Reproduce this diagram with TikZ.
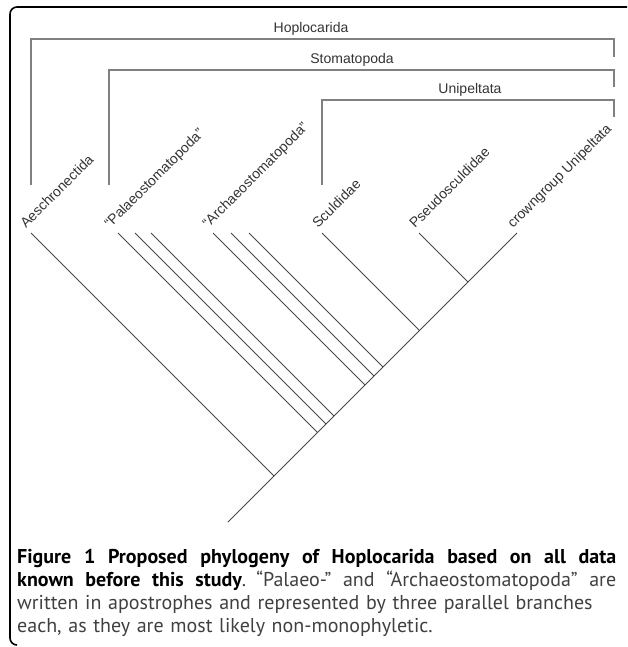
\documentclass[tikz,border=0pt]{standalone}
\usepackage{fontspec}
\setmainfont{Liberation Sans}
\newfontfamily\capfont{PT Sans}

\begin{document}
\begin{tikzpicture}[x=1pt,y=-1pt,
    clade/.style={draw=black!50,line width=1.2pt},
    branch/.style={draw=black!72,line width=0.9pt},
    taxon/.style={rotate=45,anchor=base west,inner sep=0pt,
      font=\fontsize{14}{16}\selectfont,text=black!80},
    group/.style={anchor=base,inner sep=0pt,
      font=\fontsize{14}{16}\selectfont,text=black!80},
    caption/.style={anchor=base west,inner sep=0pt,text width=599pt,align=left,
      font=\capfont\fontsize{20}{23}\selectfont,text=black!75}]

  \useasboundingbox (0,0) rectangle (627,647);

  % box round the figure
  \draw[line width=1.6pt,rounded corners=7pt] (627,7) -| (10,645) -- (17,645);

  % Clade brackets
  \coordinate (hopBL) at (31,185);  \coordinate (hopTL) at (31,39);
  \coordinate (hopTR) at (614,39);  \coordinate (hopBR) at (614,57);
  \coordinate (stoBL) at (109,185); \coordinate (stoTL) at (109,70);
  \coordinate (stoTR) at (614,70);  \coordinate (stoBR) at (614,87);
  \coordinate (uniBL) at (322,185); \coordinate (uniTL) at (322,100);
  \coordinate (uniTR) at (614,100); \coordinate (uniBR) at (614,117);

  \draw[clade] (hopBL) -- (hopTL) -- (hopTR) -- (hopBR);
  \draw[clade] (stoBL) -- (stoTL) -- (stoTR) -- (stoBR);
  \draw[clade] (uniBL) -- (uniTL) -- (uniTR) -- (uniBR);

  \node[group] (hop) at (311,33) {Hoplocarida};
  \node[group] (sto) at (352,64) {Stomatopoda};
  \node[group] (uni) at (470,94) {Unipeltata};

  % Tree: tips and the points where they meet the stem
  \coordinate (root)  at (228,522);
  \coordinate (crwT)  at (517,233);
  \coordinate (aesT)  at (31,233);  \coordinate (aesJ)  at (274,476);
  \coordinate (pal1T) at (118,233); \coordinate (pal1J) at (317.5,432.5);
  \coordinate (pal2T) at (135,233); \coordinate (pal2J) at (326,424);
  \coordinate (pal3T) at (151,233); \coordinate (pal3J) at (334,416);
  \coordinate (arc1T) at (213,233); \coordinate (arc1J) at (365,385);
  \coordinate (arc2T) at (231,233); \coordinate (arc2J) at (374,376);
  \coordinate (arc3T) at (249,233); \coordinate (arc3J) at (383,367);
  \coordinate (sclT)  at (322,233); \coordinate (sclJ)  at (419.5,330.5);
  \coordinate (psdT)  at (419,233); \coordinate (psdJ)  at (468,282);

  % Stem
  \draw[branch] (root) -- (crwT);

  % Side branches
  \draw[branch] (aesT) -- (aesJ);
  \draw[branch] (pal1T) -- (pal1J);
  \draw[branch] (pal2T) -- (pal2J);
  \draw[branch] (pal3T) -- (pal3J);
  \draw[branch] (arc1T) -- (arc1J);
  \draw[branch] (arc2T) -- (arc2J);
  \draw[branch] (arc3T) -- (arc3J);
  \draw[branch] (sclT) -- (sclJ);
  \draw[branch] (psdT) -- (psdJ);

  % Taxon names
  \node[taxon] (aes) at (26,229)  {Aeschronectida};
  \node[taxon] (pal) at (110,229) {“Palaeostomatopoda”};
  \node[taxon] (arc) at (208,229) {“Archaeostomatopoda”};
  \node[taxon] (scl) at (318,229) {Sculdidae};
  \node[taxon] (psd) at (415,229) {Pseudosculdidae};
  \node[taxon] (crw) at (513,229) {crowngroup Unipeltata};

  % Caption
  \node[caption] (cap) at (17,563) {%
    \leavevmode\hbox to 599pt{\spaceskip=0.25em plus 1em minus 0.05em\relax
      \color{black}\bfseries Figure 1 Proposed phylogeny of Hoplocarida based on all data}\\
    \leavevmode\hbox to 599pt{\spaceskip=0.25em plus 1em minus 0.05em\relax
      {\color{black}\bfseries known before this study}. “Palaeo-” and “Archaeostomatopoda” are}\\
    \leavevmode\hbox{written in apostrophes and represented by three parallel branches}\\
    each, as they are most likely non-monophyletic.};

\end{tikzpicture}
\end{document}
